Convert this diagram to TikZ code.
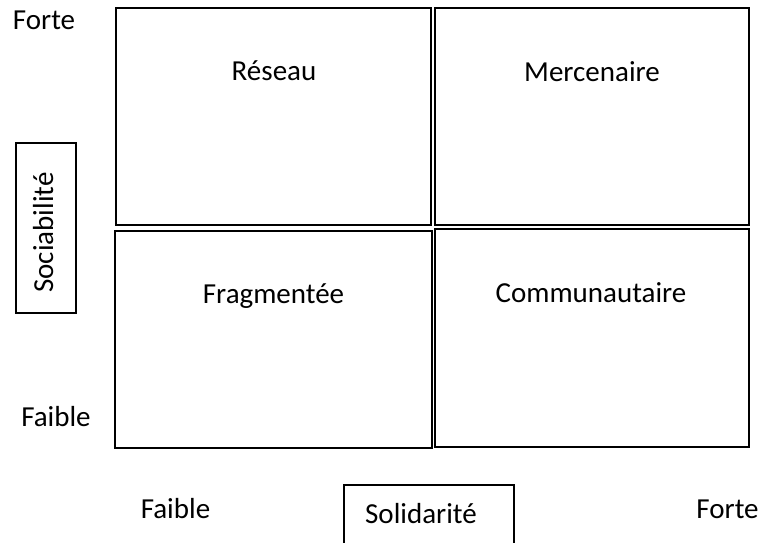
\documentclass[tikz,border=0pt]{standalone}
\usepackage{fontspec}
\setmainfont{Carlito}
\begin{document}
\begin{tikzpicture}[x=1pt,y=-1pt,
  quad/.style={draw=black,line width=1.1pt,rectangle,inner sep=0pt},
  lbl/.style={font=\fontsize{29}{34}\selectfont,inner sep=0pt,anchor=base}]
\clip (0,0) rectangle (759,542);
\fill[white] (0,0) rectangle (759,542);
% quadrants
\node[quad,minimum width=315pt,minimum height=217pt] (reseau) at (273.5,116.5) {};
\node[quad,minimum width=314pt,minimum height=217pt] (merc) at (592,116.5) {};
\node[quad,minimum width=317pt,minimum height=217pt] (frag) at (273.5,339.5) {};
\node[quad,minimum width=314pt,minimum height=218pt] (comm) at (592,338) {};
% quadrant labels
\node[lbl] (treseau) at (274,80) {Réseau};
\node[lbl] (tmerc) at (592,81) {Mercenaire};
\node[lbl] (tfrag) at (273.5,303) {Fragmentée};
\node[lbl] (tcomm) at (591,302) {Communautaire};
% vertical axis
\node[quad,minimum width=60pt,minimum height=170pt] (socbox) at (46,228) {};
\node[lbl,rotate=90] (soc) at (53,232.5) {Sociabilité};
\node[lbl] (forte1) at (44,29) {Forte};
\node[lbl] (faible1) at (56,426) {Faible};
% horizontal axis
\node[quad,minimum width=170pt,minimum height=70pt] (solbox) at (429,520) {};
\node[lbl] (sol) at (421,523) {Solidarité};
\node[lbl] (faible2) at (175.5,518) {Faible};
\node[lbl] (forte2) at (727.5,518) {Forte};
\end{tikzpicture}
\end{document}
